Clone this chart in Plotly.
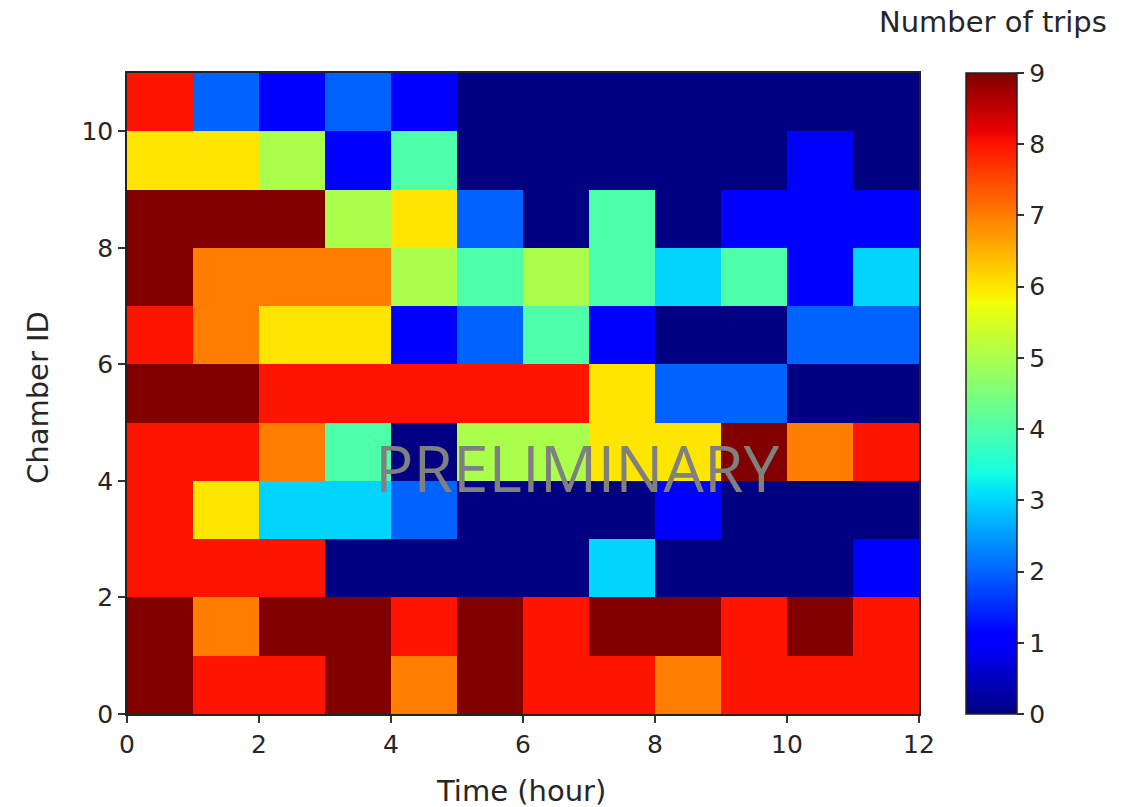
import numpy as np
import plotly.graph_objects as go

# Time bins (hour) and chamber ids
time_hours = list(range(12))
chamber_ids = list(range(11))

# Number of trips per chamber (row) and hour (column), rows from chamber 0 upward
trips_ch0 = [9, 8, 8, 9, 7, 9, 8, 8, 7, 8, 8, 8]
trips_ch1 = [9, 7, 9, 9, 8, 9, 8, 9, 9, 8, 9, 8]
trips_ch2 = [8, 8, 8, 0, 0, 0, 0, 3, 0, 0, 0, 1]
trips_ch3 = [8, 6, 3, 3, 2, 0, 0, 0, 1, 0, 0, 0]
trips_ch4 = [8, 8, 7, 4, 0, 5, 5, 6, 6, 9, 7, 8]
trips_ch5 = [9, 9, 8, 8, 8, 8, 8, 6, 2, 2, 0, 0]
trips_ch6 = [8, 7, 6, 6, 1, 2, 4, 1, 0, 0, 2, 2]
trips_ch7 = [9, 7, 7, 7, 5, 4, 5, 4, 3, 4, 1, 3]
trips_ch8 = [9, 9, 9, 5, 6, 2, 0, 4, 0, 1, 1, 1]
trips_ch9 = [6, 6, 5, 1, 4, 0, 0, 0, 0, 0, 1, 0]
trips_ch10 = [8, 2, 1, 2, 1, 0, 0, 0, 0, 0, 0, 0]

z = [trips_ch0, trips_ch1, trips_ch2, trips_ch3, trips_ch4, trips_ch5,
     trips_ch6, trips_ch7, trips_ch8, trips_ch9, trips_ch10]

x_ticks = [0, 2, 4, 6, 8, 10, 12]
y_ticks = [0, 2, 4, 6, 8, 10]
cbar_ticks = list(range(10))

# matplotlib "jet" colormap segment data
red_seg = [(0, 0), (0.35, 0), (0.66, 1), (0.89, 1), (1, 0.5)]
green_seg = [(0, 0), (0.125, 0), (0.375, 1), (0.64, 1), (0.91, 0), (1, 0)]
blue_seg = [(0, 0.5), (0.11, 1), (0.34, 1), (0.65, 0), (1, 0)]
stops = sorted(set([p for p, _ in red_seg] + [p for p, _ in green_seg] + [p for p, _ in blue_seg]))


def seg(s, t):
    xs = [p for p, _ in s]
    vs = [v for _, v in s]
    return float(np.interp(t, xs, vs))


jet = [[t, "rgb(%d,%d,%d)" % (round(255 * seg(red_seg, t)), round(255 * seg(green_seg, t)),
                              round(255 * seg(blue_seg, t)))] for t in stops]

font_family = "DejaVu Sans"
fs_tick = 25
fs_label = 29
txt_color = "#262626"

fig = go.Figure()
fig.add_trace(go.Heatmap(
    z=z,
    x=[h + 0.5 for h in time_hours],
    y=[c + 0.5 for c in chamber_ids],
    zmin=0, zmax=9,
    colorscale=jet,
    colorbar=dict(
        x=(966 - 127) / 792, xanchor="left", xref="paper",
        y=0, yanchor="bottom", len=1, lenmode="fraction",
        thickness=51, thicknessmode="pixels",
        outlinewidth=1.5, outlinecolor="#222",
        tickvals=cbar_ticks, ticks="outside", ticklen=7, tickwidth=1.5, tickcolor="#333",
        tickfont=dict(family=font_family, size=fs_tick, color=txt_color),
        ypad=0, xpad=0,
    ),
    hoverongaps=False,
))

fig.update_layout(
    width=1140, height=807,
    margin=dict(l=127, r=221, t=73, b=93),
    paper_bgcolor="white", plot_bgcolor="white",
    font=dict(family=font_family, size=fs_tick, color=txt_color),
    xaxis=dict(range=[0, 12], tickvals=x_ticks, ticks="outside", ticklen=7, tickwidth=1.5,
               tickcolor="#333", showline=True, linecolor="#222", linewidth=1.5, mirror=True,
               showgrid=False, zeroline=False, tickfont=dict(size=fs_tick)),
    yaxis=dict(range=[0, 11], tickvals=y_ticks, ticks="outside", ticklen=7, tickwidth=1.5,
               tickcolor="#333", showline=True, linecolor="#222", linewidth=1.5, mirror=True,
               showgrid=False, zeroline=False, tickfont=dict(size=fs_tick)),
    annotations=[
        dict(text="Time (hour)", xref="paper", yref="paper", x=(521 - 127) / 792,
             y=-(791 - 714) / 641, xanchor="center", yanchor="middle", showarrow=False,
             font=dict(size=fs_label)),
        dict(text="Chamber ID", xref="paper", yref="paper", x=-(127 - 38) / 792,
             y=(714 - 398) / 641, xanchor="center", yanchor="middle", textangle=-90,
             showarrow=False, font=dict(size=fs_label)),
        dict(text="Number of trips", xref="paper", yref="paper", x=(1109 - 127) / 792,
             y=(714 - 22) / 641, xanchor="right", yanchor="middle", showarrow=False,
             font=dict(size=fs_label)),
        dict(text="PRELIMINARY", xref="paper", yref="paper", x=(577 - 127) / 792,
             y=(714 - 467) / 641, xanchor="center", yanchor="middle", showarrow=False,
             font=dict(family="Open Sans", size=64, color="rgba(128,128,128,1)")),
    ],
)

fig.write_html("out.html", config={"displayModeBar": False},
               post_script="document.body.style.margin='0px';")
